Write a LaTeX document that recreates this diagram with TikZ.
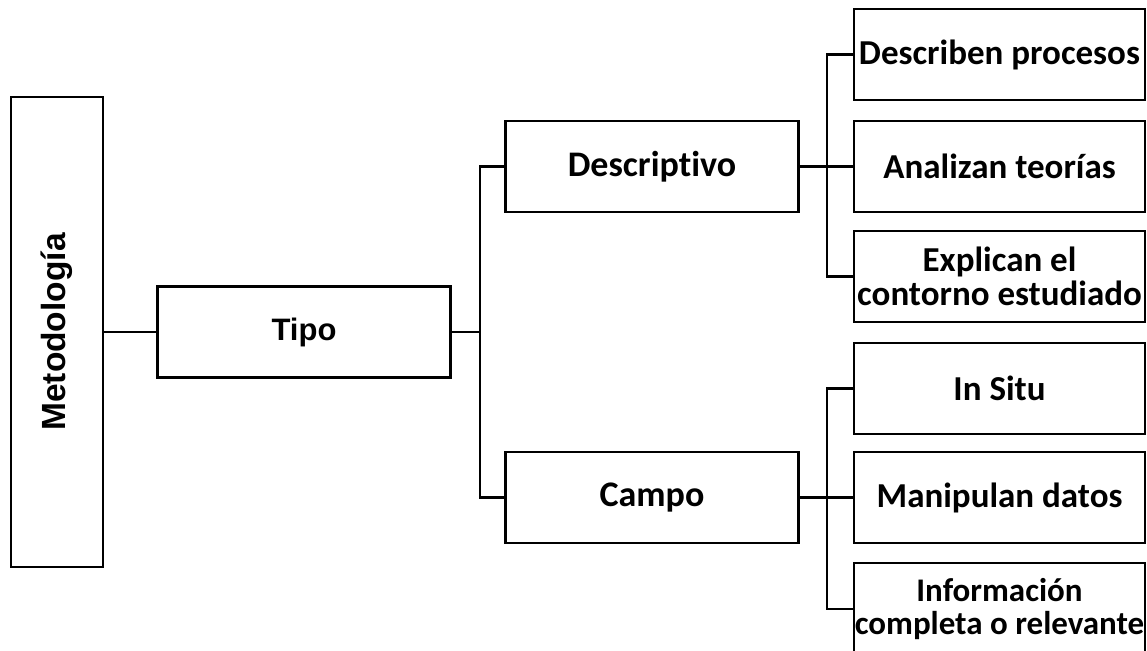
\documentclass[tikz,border=0pt]{standalone}
\usepackage{fontspec}
\setmainfont{Carlito}[RawFeature={-liga}]
\newfontfamily\arialbold{Liberation Sans}[BoldFont={Liberation Sans Bold}]
\begin{document}
\begin{tikzpicture}[x=1pt,y=-1pt,
  box/.style={draw, line width=2.4pt, rectangle, inner sep=0pt, align=center,
    font=\fontsize{35}{34}\selectfont\bfseries},
  wide/.style={box, minimum width=293pt, minimum height=91pt},
  leaf/.style={box, minimum width=291pt, minimum height=91pt},
  link/.style={line width=2.4pt}]
\useasboundingbox (0,0) rectangle (1147,650);
\clip (0,0) rectangle (1147,650);

% root and first level
\node[box, rotate=90, minimum width=470pt, minimum height=92pt,
      font=\arialbold\fontsize{33.5}{40}\selectfont\bfseries] (met) at (57,332) {Metodología};
\node[wide, font=\arialbold\fontsize{31}{37}\selectfont\bfseries] (tipo) at (304,332) {Tipo};

% second level
\node[wide, font=\fontsize{36}{43}\selectfont\bfseries] (desc) at (652,166.5) {Descriptivo};
\node[wide, font=\fontsize{36}{43}\selectfont\bfseries] (campo) at (652,497.5) {Campo};

% leaves
\node[leaf] (d1) at (999.5,54.5) {Describen procesos};
\node[leaf] (d2) at (999.5,166.5) {Analizan teorías};
\node[leaf, text depth=0pt] (d3) at (999.5,276.5) {Explican el\\contorno estudiado};
\node[leaf] (c1) at (999.5,388.5) {In Situ};
\node[leaf] (c2) at (999.5,497.5) {Manipulan datos};
\node[leaf, minimum height=92pt, font=\fontsize{33}{33}\selectfont\bfseries] (c3) at (999.5,609) {Información\\completa o relevante};

% bracket junctions
\coordinate (j1) at (480,332);
\coordinate (j2) at (827,166.5);
\coordinate (j3) at (827,497.5);

\draw[link] (met.south) -- (tipo.west);
\draw[link] (tipo.east) -- (j1);
\draw[link] (desc.west) -| (j1) |- (campo.west);
\draw[link] (desc.east) -- (j2);
\draw[link] (d1.west) -| (j2) |- (d3.west);
\draw[link] (d2.west) -- (j2);
\draw[link] (campo.east) -- (j3);
\draw[link] (c1.west) -| (j3) |- (c3.west);
\draw[link] (c2.west) -- (j3);
\end{tikzpicture}
\end{document}
